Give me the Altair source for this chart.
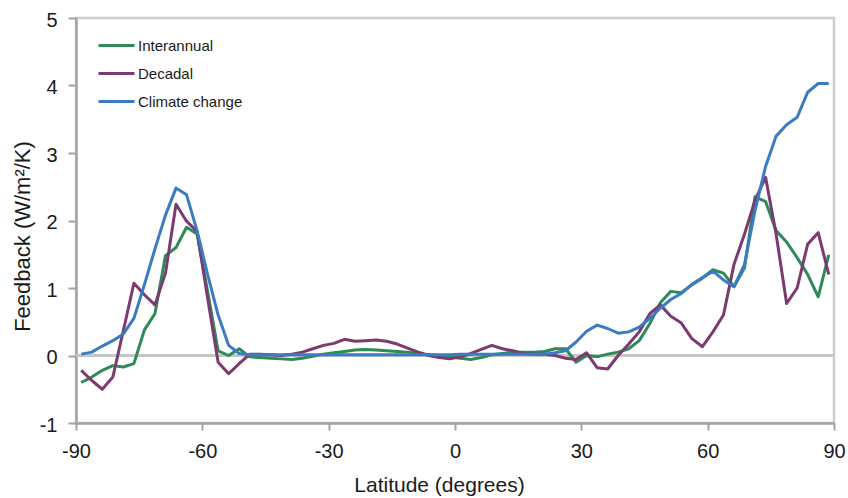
import altair as alt
import pandas as pd

lat = [-88.75, -86.25, -83.75, -81.25, -78.75, -76.25, -73.75, -71.25, -68.75, -66.25,
       -63.75, -61.25, -58.75, -56.25, -53.75, -51.25, -48.75, -46.25, -43.75, -41.25,
       -38.75, -36.25, -33.75, -31.25, -28.75, -26.25, -23.75, -21.25, -18.75, -16.25,
       -13.75, -11.25, -8.75, -6.25, -3.75, -1.25, 1.25, 3.75, 6.25, 8.75,
       11.25, 13.75, 16.25, 18.75, 21.25, 23.75, 26.25, 28.75, 31.25, 33.75,
       36.25, 38.75, 41.25, 43.75, 46.25, 48.75, 51.25, 53.75, 56.25, 58.75,
       61.25, 63.75, 66.25, 68.75, 71.25, 73.75, 76.25, 78.75, 81.25, 83.75,
       86.25, 88.75]

interannual = [-0.40, -0.32, -0.22, -0.15, -0.17, -0.12, 0.38, 0.62, 1.48, 1.60,
               1.90, 1.80, 0.95, 0.07, 0.00, 0.10, -0.02, -0.03, -0.04, -0.05,
               -0.06, -0.04, -0.01, 0.02, 0.04, 0.06, 0.08, 0.09, 0.08, 0.07,
               0.06, 0.05, 0.03, 0.01, 0.00, -0.02, -0.04, -0.06, -0.03, 0.01,
               0.03, 0.05, 0.05, 0.05, 0.06, 0.10, 0.10, -0.10, 0.00, -0.02,
               0.02, 0.05, 0.10, 0.22, 0.47, 0.78, 0.95, 0.93, 1.05, 1.15,
               1.27, 1.22, 1.02, 1.30, 2.35, 2.28, 1.85, 1.68, 1.45, 1.20,
               0.87, 1.49]

decadal = [-0.22, -0.37, -0.50, -0.32, 0.37, 1.07, 0.90, 0.75, 1.22, 2.24,
           1.99, 1.84, 0.85, -0.10, -0.27, -0.12, 0.02, 0.02, 0.01, 0.00,
           0.02, 0.05, 0.10, 0.15, 0.18, 0.24, 0.21, 0.22, 0.23, 0.21,
           0.17, 0.11, 0.05, 0.00, -0.03, -0.05, -0.02, 0.03, 0.09, 0.15,
           0.10, 0.07, 0.03, 0.02, 0.02, 0.00, -0.04, -0.06, 0.04, -0.18,
           -0.20, 0.00, 0.17, 0.35, 0.62, 0.75, 0.58, 0.48, 0.25, 0.13,
           0.35, 0.60, 1.35, 1.80, 2.30, 2.64, 1.80, 0.77, 1.00, 1.65,
           1.82, 1.20]

climate_change = [0.02, 0.05, 0.14, 0.22, 0.32, 0.55, 1.05, 1.58, 2.08, 2.48,
                  2.38, 1.85, 1.20, 0.60, 0.15, 0.03, 0.01, 0.01, 0.01, 0.01,
                  0.01, 0.01, 0.01, 0.01, 0.01, 0.01, 0.01, 0.01, 0.01, 0.01,
                  0.01, 0.01, 0.01, 0.01, 0.01, 0.01, 0.02, 0.02, 0.02, 0.02,
                  0.02, 0.02, 0.02, 0.02, 0.02, 0.04, 0.07, 0.20, 0.36, 0.45,
                  0.40, 0.33, 0.35, 0.42, 0.55, 0.70, 0.83, 0.92, 1.05, 1.15,
                  1.25, 1.12, 1.02, 1.35, 2.15, 2.80, 3.25, 3.42, 3.53, 3.90,
                  4.03, 4.03]

series = ["Interannual", "Decadal", "Climate change"]
colors = ["#2E8A57", "#7B3A70", "#3A7BC2"]
x_ticks = [-90, -60, -30, 0, 30, 60, 90]
y_ticks = [-1, 0, 1, 2, 3, 4, 5]

rows = []
for name, vals in zip(series, [interannual, decadal, climate_change]):
    assert len(vals) == len(lat)
    for la, v in zip(lat, vals):
        rows.append({"lat": la, "value": v, "series": name})
df = pd.DataFrame(rows)

FONT = "Liberation Sans"
TXT = "#1a1a1a"
AX = "#a3a3a3"
LABEL_EXPR = "'' + datum.value"

xscale = alt.Scale(domain=[-90, 90], nice=False, zero=False)
yscale = alt.Scale(domain=[-1, 5], nice=False, zero=False)

zero_line = alt.Chart(pd.DataFrame({"v": [0]})).mark_rule(
    color="#c6c6c6", strokeWidth=3
).encode(y=alt.datum(0, scale=yscale))

lines = alt.Chart(df).mark_line(strokeWidth=3, strokeJoin="round").encode(
    x=alt.X("lat:Q", scale=xscale,
            axis=alt.Axis(values=x_ticks, title="Latitude (degrees)", grid=False,
                          labelExpr=LABEL_EXPR,
                          domainColor=AX, domainWidth=2.5, tickColor=AX, tickWidth=2,
                          tickSize=7, labelFontSize=20, labelFont=FONT, labelColor=TXT,
                          labelPadding=11, labelFlush=False, labelOverlap=False,
                          titleFont=FONT, titleFontSize=21, titleFontWeight="normal",
                          titleColor=TXT, titleX=363, titleY=68, titleAlign="center",
                          titleBaseline="alphabetic")),
    y=alt.Y("value:Q", scale=yscale,
            axis=alt.Axis(values=y_ticks, title="Feedback (W/m²/K)", grid=False,
                          labelExpr=LABEL_EXPR,
                          domainColor=AX, domainWidth=2.5, tickColor=AX, tickWidth=2,
                          tickSize=8, labelFontSize=20, labelFont=FONT, labelColor=TXT,
                          labelPadding=11, labelOffset=2, labelFlush=False,
                          labelOverlap=False,
                          titleFont=FONT, titleFontSize=22, titleFontWeight="normal",
                          titleColor=TXT, titleX=-54, titleY=218, titleAngle=270,
                          titleAlign="center", titleBaseline="middle")),
    color=alt.Color("series:N", scale=alt.Scale(domain=series, range=colors),
                    legend=alt.Legend(title=None, orient="none", legendX=21, legendY=8,
                                      symbolType="stroke", symbolSize=1296,
                                      symbolStrokeWidth=3, labelFont=FONT,
                                      labelFontSize=15, labelColor=TXT, labelOffset=2,
                                      rowPadding=-9, padding=0, labelLimit=300)),
)

chart = alt.layer(zero_line, lines).properties(
    width=758, height=405,
    autosize=alt.AutoSizeParams(type="none"),
    padding={"left": 76, "top": 18, "right": 14, "bottom": 75},
    background="white",
).configure_view(stroke="#cdcdcd", strokeWidth=2.5)

chart.save("out.html", embed_options={"renderer": "svg", "actions": False})
